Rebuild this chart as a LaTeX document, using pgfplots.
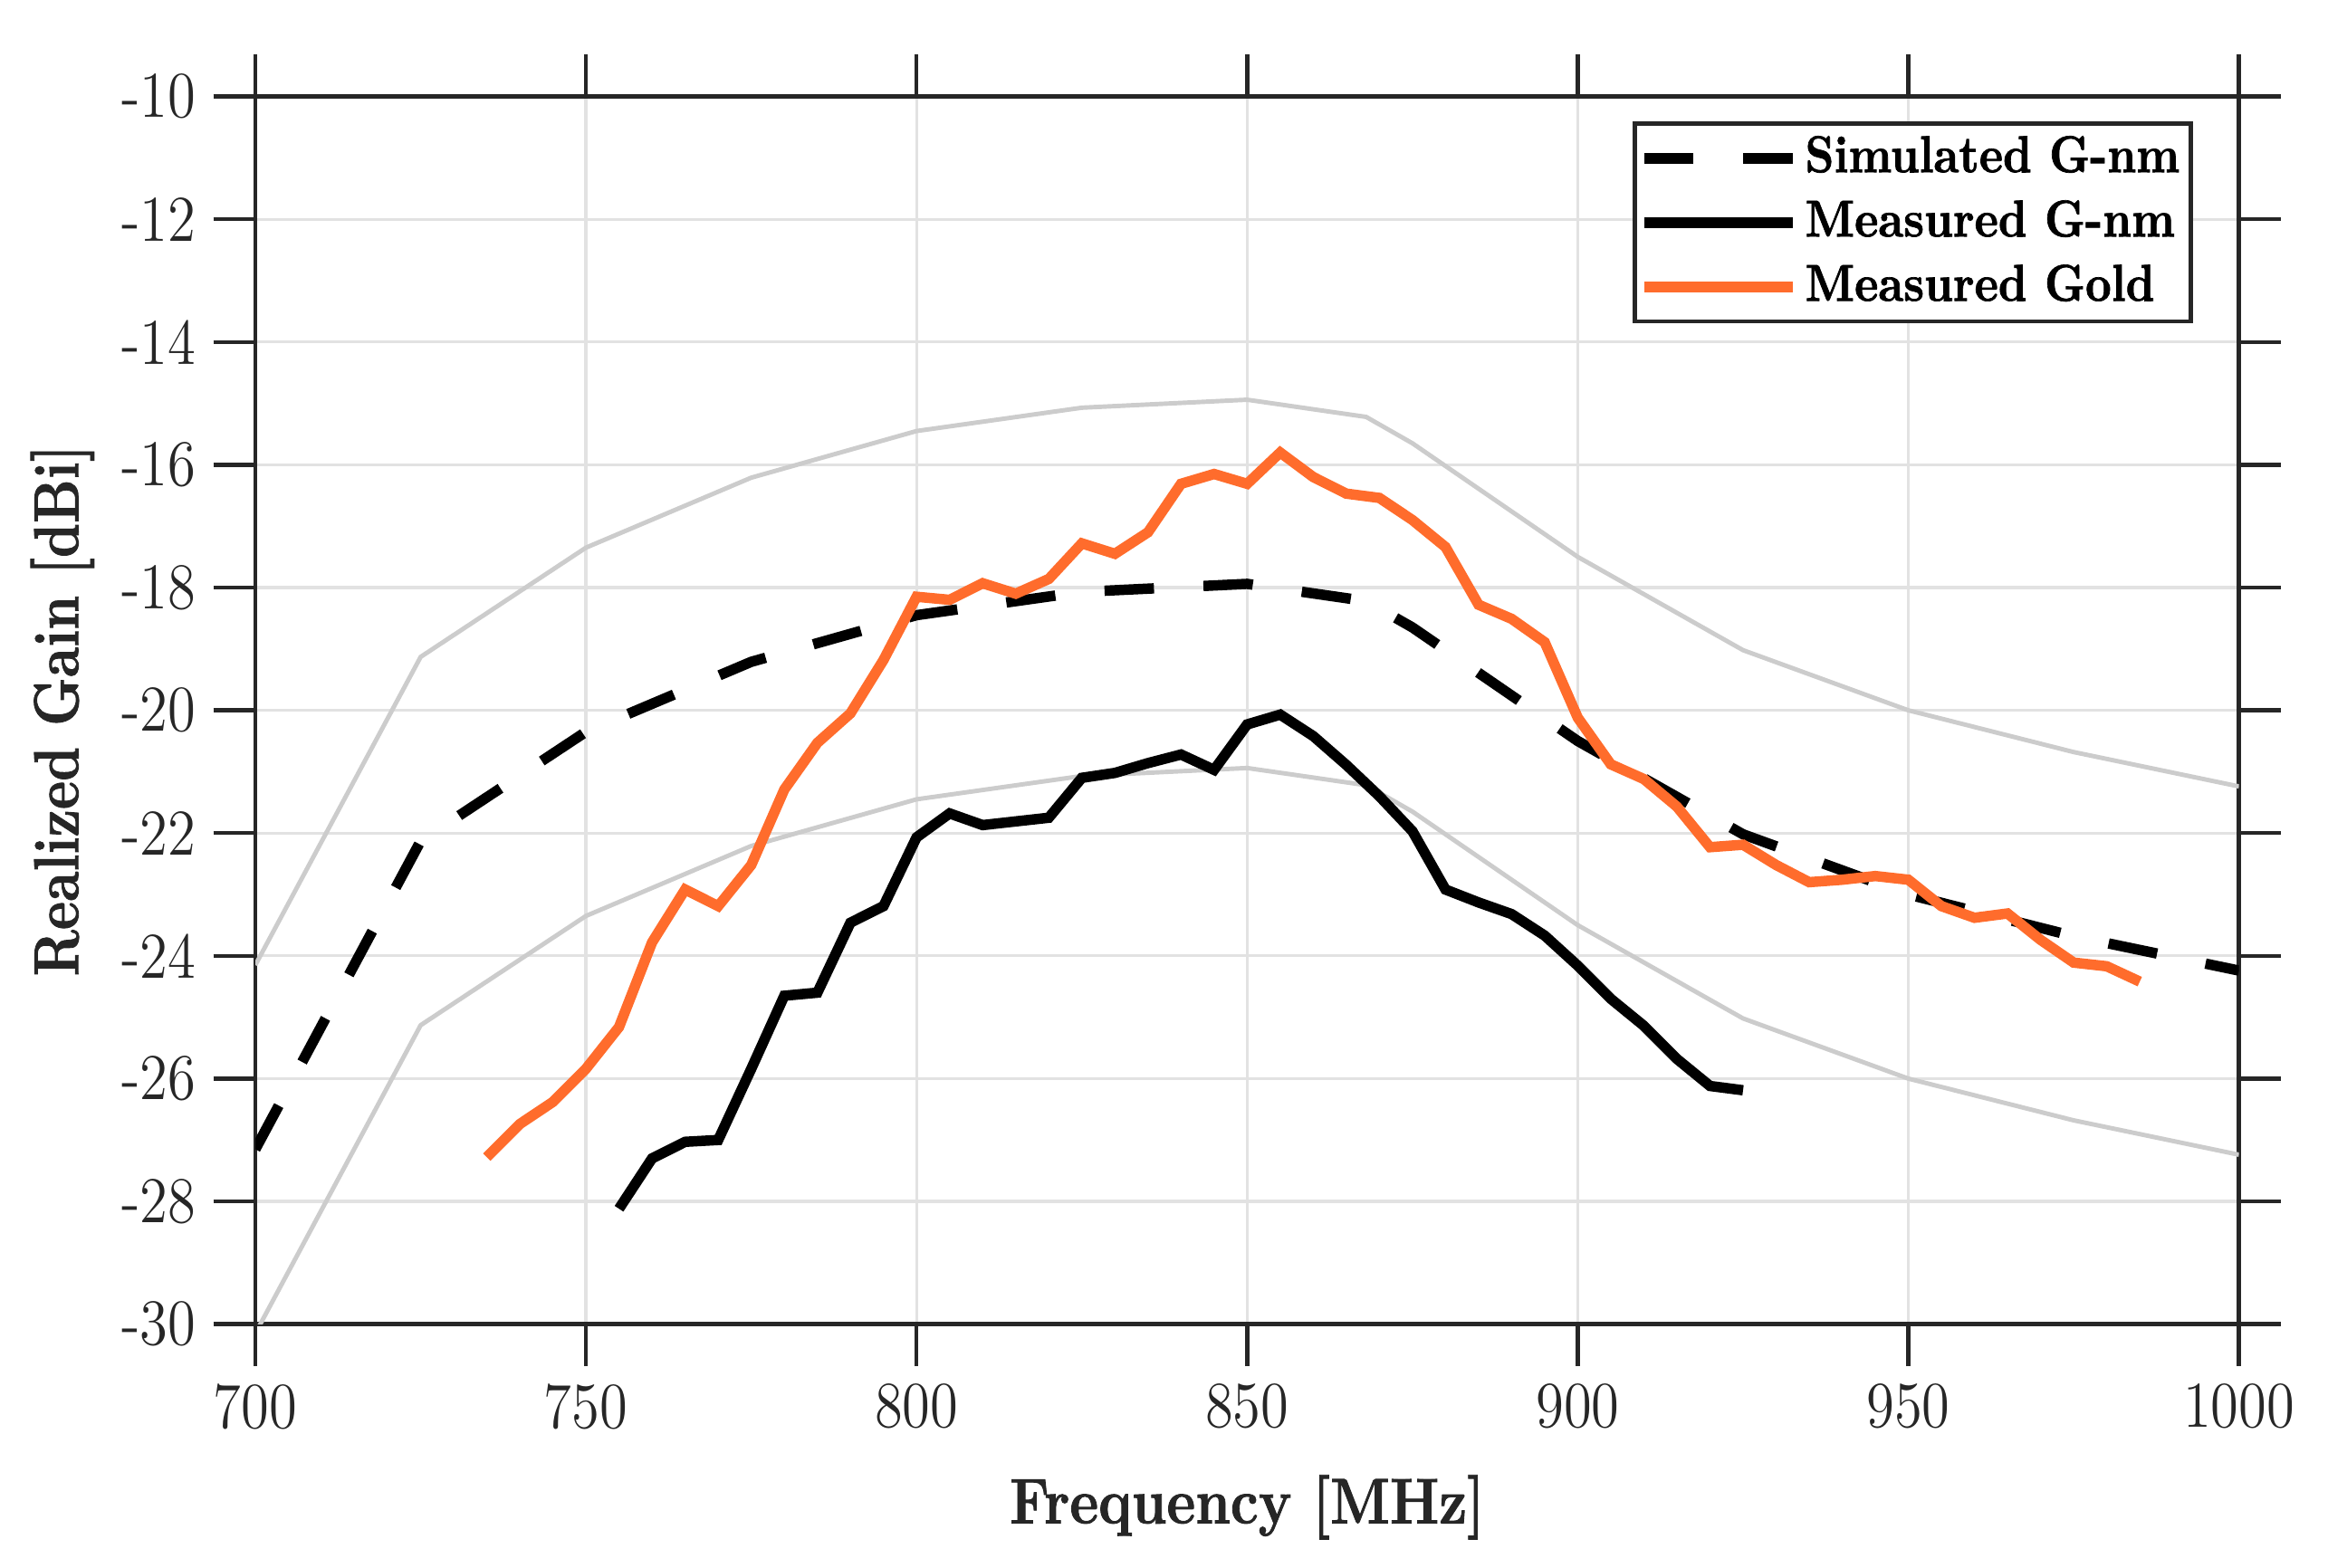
\documentclass[border=0pt]{standalone}
\usepackage{fontspec}
\setmainfont{Latin Modern Roman}[FakeStretch=0.87, BoldFeatures={FakeBold=1.2}]
\usepackage{pgfplots}
\pgfplotsset{compat=1.18}
\definecolor{goldc}{RGB}{255,108,44}
\definecolor{envc}{RGB}{204,204,204}
\definecolor{gridc}{RGB}{226,226,226}
\definecolor{axc}{RGB}{38,38,38}
\begin{document}
\begin{tikzpicture}
\begin{axis}[
  scale only axis,
  width=400.8pt, height=248.1pt,
  xmin=700, xmax=1000, ymin=-30, ymax=-10,
  xtick={700,750,800,850,900,950,1000},
  xticklabels={700,750,800,850,900,950,1000},
  ytick={-30,-28,-26,-24,-22,-20,-18,-16,-14,-12,-10},
  yticklabels={-30,-28,-26,-24,-22,-20,-18,-16,-14,-12,-10},
  tick align=outside,
  tick pos=both,
  xticklabel pos=bottom, yticklabel pos=left,
  major tick length=8.5pt,
  ticklabel style={font=\fontsize{13.2}{15}\selectfont, text=axc},
  axis line style={draw=axc, line width=0.8pt},
  tick style={draw=axc, line width=0.8pt},
  grid=major,
  grid style={draw=gridc, line width=0.6pt},
  xlabel={Frequency [MHz]},
  ylabel={Realized Gain [dBi]},
  every axis x label/.style={at={(axis description cs:0.5,0)}, anchor=center, yshift=-37pt, font=\fontsize{13}{15}\bfseries\selectfont, text=axc},
  every axis y label/.style={at={([xshift=-39pt]axis description cs:0,0.5)}, anchor=center, rotate=90, font=\fontsize{12.8}{15}\bfseries\selectfont, text=axc},
  legend image code/.code={\draw[#1] (0pt,0pt) -- (30pt,0pt);},
  legend style={at={(axis description cs:1,1)}, anchor=north east, xshift=-9.3pt, yshift=-5.1pt,
    draw=axc, line width=0.8pt, inner xsep=0.8pt, inner ysep=0.5pt,
    font=\fontsize{10.5}{12}\bfseries\selectfont,
    nodes={inner sep=1.5pt, text height=7.8pt, text depth=2.2pt},
    row sep=0pt},
  legend cell align=left,
]
% envelopes (simulated +/- 3 dB)
\addplot[envc, line width=0.9pt, forget plot] coordinates {
(700,-24.15) (725,-19.13) (750,-17.35) (775,-16.21) (800,-15.45) (825,-15.07) (850,-14.94) (868,-15.22) (875,-15.65) (900,-17.50) (925,-19.02) (950,-20.00) (975,-20.68) (1000,-21.24)};
\addplot[envc, line width=0.9pt, forget plot] coordinates {
(700,-30.15) (725,-25.13) (750,-23.35) (775,-22.21) (800,-21.45) (825,-21.07) (850,-20.94) (868,-21.22) (875,-21.65) (900,-23.50) (925,-25.02) (950,-26.00) (975,-26.68) (1000,-27.24)};
% simulated
\addplot[black, line width=2.1pt, dash pattern=on 10pt off 10pt] coordinates {
(700,-27.15) (725,-22.13) (750,-20.35) (775,-19.21) (800,-18.45) (825,-18.07) (850,-17.94) (868,-18.22) (875,-18.65) (900,-20.50) (925,-22.02) (950,-23.00) (975,-23.68) (1000,-24.24)};
\addlegendentry{Simulated G-nm}
% measured G-nm
\addplot[black, line width=2.1pt] coordinates {
(755,-28.12) (760,-27.30) (765,-27.03) (770,-27.00) (775,-25.84) (780,-24.65) (785,-24.60) (790,-23.46) (795,-23.19) (800,-22.07)
(805,-21.68) (810,-21.87) (815,-21.81) (820,-21.75) (825,-21.10) (830,-21.02) (835,-20.86) (840,-20.72) (845,-20.97) (850,-20.23)
(855,-20.07) (860,-20.42) (865,-20.89) (870,-21.40) (875,-21.97) (880,-22.92) (885,-23.13) (890,-23.32) (895,-23.67) (900,-24.16)
(905,-24.70) (910,-25.14) (915,-25.68) (920,-26.12) (925,-26.19)};
\addlegendentry{Measured G-nm}
% measured gold
\addplot[goldc, line width=2.1pt] coordinates {
(735,-27.28) (740,-26.74) (745,-26.38) (750,-25.84) (755,-25.16) (760,-23.78) (765,-22.92) (770,-23.19) (775,-22.52) (780,-21.29)
(785,-20.53) (790,-20.05) (795,-19.18) (800,-18.15) (805,-18.20) (810,-17.93) (815,-18.10) (820,-17.86) (825,-17.28) (830,-17.45)
(835,-17.10) (840,-16.31) (845,-16.15) (850,-16.31) (855,-15.80) (860,-16.20) (865,-16.47) (870,-16.54) (875,-16.90) (880,-17.34)
(885,-18.28) (890,-18.51) (895,-18.89) (900,-20.12) (905,-20.88) (910,-21.12) (915,-21.57) (920,-22.23) (925,-22.19) (930,-22.52)
(935,-22.80) (940,-22.76) (945,-22.70) (950,-22.76) (955,-23.19) (960,-23.38) (965,-23.31) (970,-23.74) (975,-24.11) (980,-24.17)
(985,-24.42)};
\addlegendentry{Measured Gold}
\end{axis}
\pgfresetboundingbox
\path[use as bounding box] (-51.6pt,-49.2pt) rectangle (418.8pt,267.6pt);
\end{tikzpicture}
\end{document}
